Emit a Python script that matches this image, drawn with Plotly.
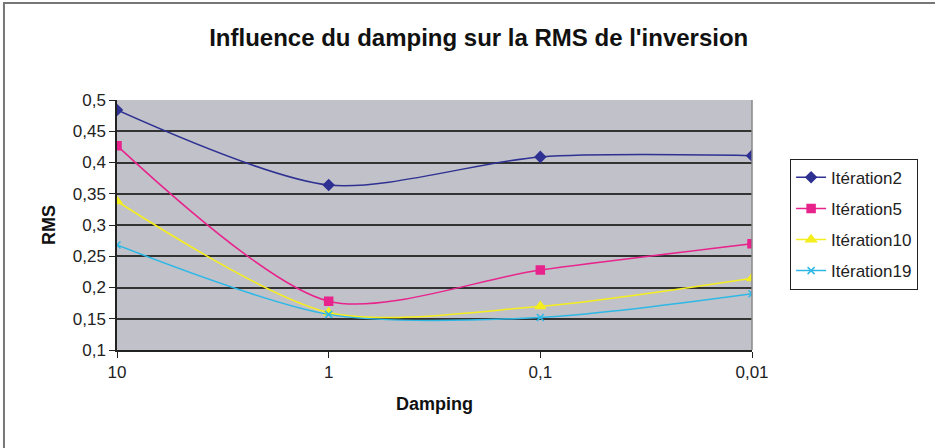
import plotly.graph_objects as go

categories = ["10", "1", "0,1", "0,01"]
iter2 = [0.484, 0.364, 0.409, 0.411]
iter5 = [0.427, 0.178, 0.228, 0.270]
iter10 = [0.338, 0.160, 0.170, 0.215]
iter19 = [0.268, 0.157, 0.152, 0.190]
series_names = ["Itération2", "Itération5", "Itération10", "Itération19"]
y_ticks = [0.1, 0.15, 0.2, 0.25, 0.3, 0.35, 0.4, 0.45, 0.5]
y_ticktext = ["0,1", "0,15", "0,2", "0,25", "0,3", "0,35", "0,4", "0,45", "0,5"]

styles = [
    dict(color="#2E3192", symbol="diamond", size=8),
    dict(color="#E8238C", symbol="square", size=8),
    dict(color="#F5EE1E", symbol="triangle-up", size=9),
    dict(color="#2EB8E6", symbol="x-thin", size=7),
]

fig = go.Figure()
for i, (name, vals, st) in enumerate(zip(series_names, [iter2, iter5, iter10, iter19], styles)):
    fig.add_trace(go.Scatter(
        x=categories, y=vals, name=name, mode="lines+markers", legendgroup=f"g{i}",
        line=dict(color=st["color"], width=1.5, shape="spline", smoothing=0.8),
        marker=dict(color=st["color"], symbol=st["symbol"], size=st["size"],
                    line=dict(color=st["color"], width=1.5)),
    ))

fig.update_layout(
    width=935, height=448,
    margin=dict(l=117, r=183, t=100, b=98),
    paper_bgcolor="white",
    plot_bgcolor="#C0C1C9",
    font=dict(family="Liberation Sans, Arial, sans-serif", color="#222222", size=16),
    title=dict(text="<b>Influence du damping sur la RMS de l'inversion</b>",
               x=0.512, xanchor="center", y=0.915, yanchor="middle",
               font=dict(size=24, color="#111111")),
    showlegend=True,
    legend=dict(x=1.06, xanchor="left", y=0.765, yanchor="top",
                bordercolor="#222222", borderwidth=1, bgcolor="white",
                font=dict(size=17, color="#222222"), tracegroupgap=6),
    xaxis=dict(type="category", range=[0, 3], showgrid=False,
               showline=True, linecolor="#222222", linewidth=1.5,
               ticks="outside", ticklen=6, tickcolor="#222222",
               title=dict(text="<b>Damping</b>", font=dict(size=18, color="#111111"), standoff=16),
               tickfont=dict(size=17)),
    yaxis=dict(range=[0.1, 0.5], tickvals=y_ticks, ticktext=y_ticktext,
               showgrid=True, gridcolor="#333333", gridwidth=1.5,
               showline=True, linecolor="#222222", linewidth=1.5,
               ticks="outside", ticklen=6, tickcolor="#222222",
               zeroline=False,
               title=dict(text="<b>RMS</b>", font=dict(size=18, color="#111111"), standoff=12),
               tickfont=dict(size=17)),
)

# right border of plot area
fig.add_shape(type="line", xref="paper", yref="paper", x0=1, x1=1, y0=0, y1=1,
              line=dict(color="#888888", width=1.5))
# outer chart frame
fig.add_shape(type="rect", xref="paper", yref="paper",
              x0=-0.178, x1=1.6, y0=-0.6, y1=1.388,
              line=dict(color="#777777", width=2), layer="below")

fig.write_html("out.html", config={"displayModeBar": False},
               post_script="document.body.style.margin='0';document.body.style.padding='0';")
